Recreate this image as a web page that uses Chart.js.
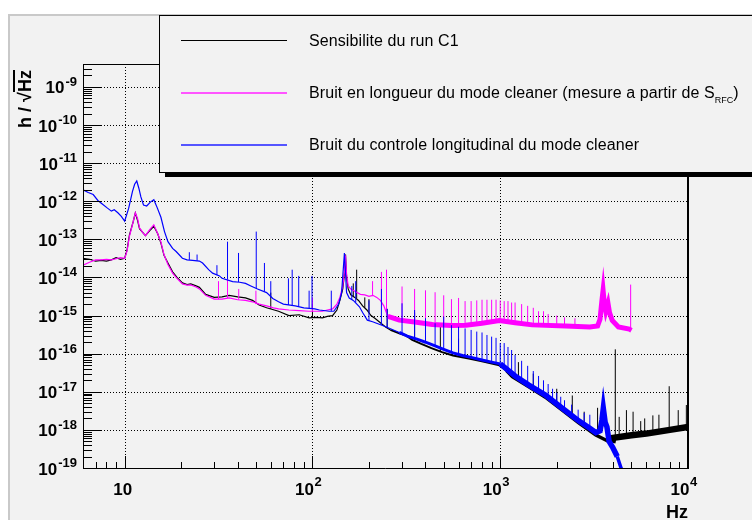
<!DOCTYPE html>
<html>
<head>
<meta charset="utf-8">
<title>Sensibilite du run C1</title>
<script src="https://cdn.jsdelivr.net/npm/chart.js@4.4.1/dist/chart.umd.min.js"></script>
<style>
  html, body { margin: 0; padding: 0; background: #fff; overflow: hidden; }
  #wrap { position: relative; width: 752px; height: 520px; overflow: hidden;
          font-family: "Liberation Sans", Arial, Helvetica, sans-serif; }
  #pad { position: absolute; left: 8px; top: 14px; width: 760px; height: 520px;
         background: #f2f2f2; border-left: 2px solid #c9c9c9; border-top: 2px solid #c9c9c9; }
  #chart { position: absolute; left: 0; top: 0; }
  #legend { position: absolute; left: 159px; top: 15px; width: 640px; height: 156px;
            background: #f2f2f2; border: 1px solid #000; box-shadow: 6px 4px 0 #000; }
  .key { position: absolute; left: 181px; width: 106px; }
  .txt { position: absolute; left: 309px; height: 20px; line-height: 20px; font-size: 16px;
         letter-spacing: 0.1px; white-space: nowrap; color: #000; }
  .txt sub { font-size: 9px; vertical-align: -5px; line-height: 0; letter-spacing: 0; }
  #ytitle { position: absolute; left: 15px; top: 128px; transform-origin: 0 0; transform: rotate(-90deg);
            font-weight: bold; font-size: 18px; line-height: 20px; white-space: nowrap; }
  #ytitle span { border-top: 2px solid #000; }
</style>
</head>
<body>
<div id="wrap">
  <div id="pad"></div>
  <canvas id="chart" width="752" height="520"></canvas>
  <div id="ytitle">h / &#8730;<span>Hz</span></div>
  <div id="legend"></div>
  <div class="key" style="top:40px;height:1px;background:#000"></div>
  <div class="key" style="top:92px;height:2px;background:#ff55ff"></div>
  <div class="key" style="top:144px;height:2px;background:#5555ff"></div>
  <div class="txt" style="top:31px">Sensibilite du run C1</div>
  <div class="txt" style="top:83px">Bruit en longueur du mode cleaner (mesure a partir de S<sub>RFC</sub>)</div>
  <div class="txt" style="top:135px">Bruit du controle longitudinal du mode cleaner</div>
</div>
<script>
// axes (Hz, h/sqrt(Hz))
const xRange = [6, 1e4];
const yRange = [1e-19, 4e-9];
const xTickValues = [10, 100, 1000, 10000];
const xTickExps = ['', '2', '3', '4'];
const yTickValues = [1e-19, 1e-18, 1e-17, 1e-16, 1e-15, 1e-14, 1e-13, 1e-12, 1e-11, 1e-10, 1e-9];
const yTickExps = ['-19', '-18', '-17', '-16', '-15', '-14', '-13', '-12', '-11', '-10', '-9'];
const minorSteps = [2, 3, 4, 5, 6, 7, 8, 9];

const seriesNames = [
  'Sensibilite du run C1',
  'Bruit en longueur du mode cleaner',
  'Bruit du controle longitudinal du mode cleaner'
];

// Sensibilite du run C1 : [Hz, h]
const blackCurve = [
  [6, 3.2e-14], [6.5, 3.0e-14], [7, 2.7e-14], [7.5, 2.8e-14], [8, 2.7e-14], [8.5, 2.9e-14],
  [9, 3.3e-14], [9.5, 3.0e-14], [10, 3.2e-14], [10.3, 5.3e-14], [10.6, 1.3e-13], [11.1, 2.9e-13],
  [11.4, 4.9e-13], [11.7, 3.2e-13], [12, 1.9e-13], [12.5, 1.5e-13], [12.9, 1.25e-13], [13.6, 1.7e-13],
  [14.3, 2.2e-13], [15, 1.4e-13], [15.6, 8e-14], [16.2, 3.8e-14], [17, 2.4e-14], [18, 1.4e-14],
  [19, 1.0e-14], [20.3, 7.2e-15], [21.5, 6.5e-15], [22.5, 6.8e-15], [24, 6.0e-15], [25, 5.5e-15],
  [27, 3.6e-15], [30, 3.0e-15], [33, 3.1e-15], [36, 3.4e-15], [40, 3.1e-15], [44, 2.9e-15],
  [48, 2.5e-15], [52, 1.9e-15], [57, 1.6e-15], [66, 1.3e-15], [75, 1.0e-15], [85, 1.05e-15],
  [96, 8.7e-16], [105, 9e-16], [113, 8.7e-16], [120, 9.5e-16], [128, 1.0e-15], [135, 1.4e-15],
  [140, 2.5e-15], [145, 5e-15], [148, 1.2e-14], [150, 4e-14], [152, 1e-14], [155, 5e-15],
  [160, 3.5e-15], [168, 3e-15], [176, 2.5e-15], [185, 1.8e-15], [195, 1.4e-15], [205, 1.0e-15],
  [215, 8.5e-16], [230, 6.5e-16], [245, 5e-16], [260, 4.2e-16], [290, 3.4e-16], [315, 3.0e-16],
  [340, 2.3e-16], [380, 1.8e-16], [430, 1.4e-16], [490, 1.1e-16], [560, 9e-17], [680, 7.5e-17],
  [800, 6.3e-17], [990, 5e-17], [1080, 3.6e-17], [1160, 2.5e-17], [1420, 1.35e-17], [1740, 7.2e-18],
  [2140, 3.3e-18], [2630, 1.5e-18], [3230, 7.3e-19], [3800, 4.9e-19], [3950, 4.6e-19], [4000, 6.2e-19],
  [5000, 7.2e-19], [6000, 8e-19], [7000, 9e-19], [8000, 1.0e-18], [10000, 1.2e-18]
];
// spikes : [Hz, base, top]
const blackSpikes = [
  [60, 1.5e-15, 4e-15], [100, 8.8e-16, 2e-15], [165, 3.2e-15, 7e-15], [172, 2.8e-15, 1.6e-14],
  [190, 1.6e-15, 3e-15], [200, 1.2e-15, 2.7e-15], [250, 4.8e-16, 1.5e-15], [350, 2.2e-16, 1.2e-15],
  [480, 1.1e-16, 5e-16], [600, 8.5e-17, 2.5e-16], [1250, 2e-17, 6e-17], [1500, 1.2e-17, 3e-17],
  [2000, 4e-18, 1.2e-17], [2420, 2.2e-18, 8e-18], [2800, 1.2e-18, 3e-18], [3300, 7e-19, 3.8e-18],
  [4100, 6.3e-19, 1.3e-16], [4300, 6.5e-19, 2.2e-18], [4700, 6.8e-19, 3.3e-18], [5100, 7.2e-19, 3e-18],
  [5600, 7.6e-19, 1.7e-18], [5880, 7.8e-19, 2e-18], [6500, 8.4e-19, 2.4e-18], [7000, 9e-19, 2.5e-18],
  [7940, 1e-18, 1.4e-17], [8870, 1.1e-18, 3.3e-18], [9800, 1.2e-18, 4.5e-18]
];

// Bruit en longueur du mode cleaner (S_RFC)
const pinkCurve = [
  [6, 2.1e-14], [6.5, 2.5e-14], [7, 2.9e-14], [7.5, 2.9e-14], [8, 3.0e-14], [8.5, 2.9e-14],
  [9, 3.1e-14], [9.5, 3.3e-14], [10, 3.2e-14], [10.3, 5e-14], [10.6, 1.2e-13], [11.1, 2.9e-13],
  [11.4, 5.0e-13], [11.7, 3.6e-13], [12, 2e-13], [12.5, 1.5e-13], [12.9, 1.25e-13], [13.6, 1.8e-13],
  [14.3, 2.4e-13], [15, 1.4e-13], [15.6, 8.5e-14], [16.2, 4e-14], [17, 2.2e-14], [18, 1.3e-14],
  [19, 9.5e-15], [20.3, 6.8e-15], [21.5, 6.3e-15], [22.5, 6.4e-15], [24, 5.6e-15], [25, 5.0e-15],
  [27, 3.4e-15], [30, 2.7e-15], [33, 2.7e-15], [36, 2.9e-15], [40, 2.6e-15], [44, 2.5e-15],
  [48, 2.3e-15], [52, 2.0e-15], [57, 1.8e-15], [62, 1.6e-15], [66, 1.5e-15], [75, 1.4e-15],
  [85, 1.35e-15], [96, 1.3e-15], [105, 1.3e-15], [113, 1.3e-15], [120, 1.4e-15], [128, 1.5e-15],
  [135, 2e-15], [140, 3e-15], [145, 6e-15], [148, 1.4e-14], [150, 3.8e-14], [152, 1.2e-14],
  [155, 6e-15], [160, 5e-15], [170, 4.2e-15], [180, 3.6e-15], [190, 3.5e-15], [200, 3.2e-15],
  [210, 3.4e-15], [220, 3e-15], [230, 2.5e-15], [240, 1.8e-15], [246, 1.3e-15], [252, 9.5e-16],
  [270, 8.6e-16], [290, 7.6e-16], [350, 6.8e-16], [435, 5.8e-16], [550, 5.5e-16], [655, 5.6e-16],
  [800, 6.3e-16], [990, 7.4e-16], [1200, 6.5e-16], [1480, 5.7e-16], [2230, 5.3e-16], [3000, 5e-16],
  [3300, 5.3e-16], [3400, 8e-16], [3480, 2.5e-15], [3530, 4.6e-15], [3580, 2.2e-15], [3650, 1.3e-15],
  [3750, 2.1e-15], [3820, 1.2e-15], [3950, 7.5e-16], [4260, 5e-16], [4870, 4.4e-16], [5000, 4.1e-16]
];
const pinkSpikes = [
  [31.6, 2.7e-15, 8e-15], [35.3, 2.9e-15, 9e-15], [40.5, 2.6e-15, 5e-15], [50, 2.0e-15, 4.5e-15],
  [100, 1.3e-15, 3e-15], [209, 3.3e-15, 8e-15], [233, 2.5e-15, 1.4e-14], [248, 1.2e-15, 1.6e-14],
  [300, 7.6e-16, 5.8e-15], [350, 6.8e-16, 5e-15], [400, 6.4e-16, 4.6e-15], [450, 6e-16, 4.1e-15],
  [500, 5.8e-16, 3.4e-15], [550, 5.5e-16, 2.7e-15], [600, 5.5e-16, 2.9e-15], [650, 5.6e-16, 2.4e-15],
  [700, 5.8e-16, 2.4e-15], [750, 6e-16, 2.5e-15], [800, 6.3e-16, 2.6e-15], [850, 6.6e-16, 2.6e-15],
  [900, 6.9e-16, 2.6e-15], [950, 7.2e-16, 2.6e-15], [1000, 7.4e-16, 2.5e-15], [1050, 7.2e-16, 2.4e-15],
  [1100, 7e-16, 2.4e-15], [1150, 6.8e-16, 2.2e-15], [1200, 6.5e-16, 2.2e-15], [1300, 6.2e-16, 2e-15],
  [1400, 5.9e-16, 1.8e-15], [1500, 5.7e-16, 1.6e-15], [1600, 5.6e-16, 1.3e-15], [1700, 5.5e-16, 1.3e-15],
  [1800, 5.5e-16, 1.1e-15], [2000, 5.4e-16, 1e-15], [2200, 5.3e-16, 9e-16], [2500, 5.2e-16, 8.5e-16],
  [4950, 4.3e-16, 6.5e-15]
];

// Bruit du controle longitudinal du mode cleaner
const blueCurve = [
  [6, 2.0e-12], [6.4, 1.7e-12], [6.8, 1.5e-12], [7.2, 1.05e-12], [7.6, 8.5e-13], [8.1, 6.6e-13],
  [8.5, 5.5e-13], [8.8, 6e-13], [9.2, 5e-13], [9.6, 4e-13], [10, 3.0e-13], [10.5, 6.5e-13],
  [11, 1.8e-12], [11.3, 2.8e-12], [11.6, 3.4e-12], [11.9, 2.2e-12], [12.2, 1.3e-12], [12.6, 8e-13],
  [13.1, 7.5e-13], [13.7, 9.5e-13], [14.3, 1.1e-12], [14.9, 6.8e-13], [15.6, 3.8e-13], [16.3, 1.6e-13],
  [17, 8.7e-14], [18, 5.8e-14], [18.8, 4.8e-14], [20.3, 3.2e-14], [21.5, 2.9e-14], [23, 2.8e-14],
  [25, 2.7e-14], [26, 2.4e-14], [28, 1.6e-14], [29.4, 1.3e-14], [32, 1.1e-14], [33, 9.5e-15],
  [37.6, 7.8e-15], [41, 7.5e-15], [44, 7e-15], [47, 6e-15], [51, 5e-15], [57, 4e-15],
  [61.5, 2.8e-15], [66, 2.3e-15], [70, 2e-15], [81, 1.8e-15], [90, 1.6e-15], [103, 1.5e-15],
  [109, 1.4e-15], [123, 1.3e-15], [130, 1.3e-15], [138, 2e-15], [143, 4e-15], [148, 4.4e-14],
  [152, 4e-15], [157, 2.9e-15], [165, 2.5e-15], [178, 1.7e-15], [185, 1.2e-15], [196, 7.6e-16],
  [209, 6.9e-16], [225, 6e-16], [246, 5.1e-16], [290, 3.6e-16], [320, 2.9e-16], [360, 2.4e-16],
  [400, 2e-16], [450, 1.6e-16], [500, 1.3e-16], [560, 1.05e-16], [630, 9e-17], [700, 8e-17],
  [800, 6.8e-17], [900, 6e-17], [1000, 5.4e-17], [1100, 3.7e-17], [1200, 2.6e-17], [1420, 1.5e-17],
  [1740, 8.2e-18], [2140, 3.7e-18], [2630, 1.7e-18], [3000, 1.1e-18], [3230, 8.5e-19], [3400, 9.5e-19],
  [3480, 1.8e-18], [3540, 3.7e-18], [3620, 1.6e-18], [3700, 1.2e-18], [3800, 5e-19], [3970, 3.5e-19],
  [4200, 2e-19], [4400, 1e-19], [4700, 6e-20], [5000, 4e-20]
];
const blueSpikes = [
  [22.1, 2.9e-14, 4.6e-14], [24.3, 2.75e-14, 4e-14], [31, 1.15e-14, 2.1e-14], [35.3, 9e-15, 8.7e-14],
  [40.4, 7.6e-15, 4.4e-14], [50.2, 5.2e-15, 1.6e-13], [55.5, 4.3e-15, 2.4e-14], [60, 3e-15, 8e-15],
  [74.5, 1.9e-15, 9.5e-15], [78, 1.85e-15, 1.6e-14], [84.5, 1.75e-15, 1.1e-14], [96, 1.55e-15, 4.5e-15],
  [99.5, 1.5e-15, 1.1e-14], [126, 1.3e-15, 4.5e-15], [162, 2.6e-15, 6e-15], [170, 2.2e-15, 8e-15],
  [200, 7.3e-16, 2.5e-15], [233, 5.7e-16, 5e-15], [250, 5e-16, 1.5e-15],
  [300, 3.4e-16, 2.1e-15], [350, 2.5e-16, 1.4e-15], [400, 2e-16, 8.5e-16], [450, 1.6e-16, 6.3e-16],
  [500, 1.3e-16, 9.4e-16], [550, 1.08e-16, 5.6e-16], [600, 9.8e-17, 5.1e-16], [650, 8.7e-17, 4.6e-16],
  [700, 8e-17, 4.2e-16], [750, 7.4e-17, 3.8e-16], [800, 6.8e-17, 3.6e-16], [850, 6.4e-17, 3.1e-16],
  [900, 6e-17, 2.8e-16], [950, 5.7e-17, 2.6e-16], [1000, 5.4e-17, 1.9e-16], [1050, 4.5e-17, 1.9e-16],
  [1100, 3.7e-17, 1.5e-16], [1150, 3.1e-17, 1.25e-16], [1200, 2.6e-17, 9.3e-17], [1300, 2.1e-17, 6.5e-17],
  [1400, 1.6e-17, 4.8e-17], [1500, 1.3e-17, 3.5e-17], [1600, 1.05e-17, 2.6e-17], [1700, 8.8e-18, 2e-17],
  [1800, 7.4e-18, 1.6e-17], [1900, 6e-18, 1.2e-17], [2000, 4.8e-18, 9.5e-18], [2100, 3.9e-18, 7.4e-18],
  [2200, 3.3e-18, 6e-18], [2400, 2.4e-18, 4.6e-18], [2600, 1.8e-18, 3.4e-18], [2800, 1.4e-18, 2.8e-18],
  [3000, 1.1e-18, 2.5e-18]
];

const FONT = '"Liberation Sans", Arial, Helvetica, sans-serif';

const toPoints = curve => curve.map(([f, v]) => ({ x: f, y: v }));
// each spike is a short vertical stroke, separated by a gap
const toSpikes = spikes => {
  const out = [];
  spikes.forEach(([f, lo, hi]) => out.push({ x: f, y: lo }, { x: f, y: hi }, { x: f, y: null }));
  return out;
};
// noisy spectra look like a thick band at high frequency
const bandWidth = steps => ctx => {
  const f = ctx.p0.parsed.x;
  let w = 1;
  steps.forEach(([from, width]) => { if (f >= from) w = width; });
  return w;
};

const rootAxes = {
  id: 'rootAxes',
  beforeDatasetsDraw(chart) {
    const { ctx, chartArea: a, scales: { x, y } } = chart;
    ctx.save();
    ctx.strokeStyle = '#000';
    ctx.lineWidth = 1;
    ctx.setLineDash([1, 2]);
    ctx.beginPath();
    xTickValues.forEach(v => {
      if (v <= x.min || v >= x.max) return;
      const px = Math.round(x.getPixelForValue(v)) + 0.5;
      ctx.moveTo(px, a.top); ctx.lineTo(px, a.bottom);
    });
    yTickValues.forEach(v => {
      if (v <= y.min || v >= y.max) return;
      const py = Math.round(y.getPixelForValue(v)) + 0.5;
      ctx.moveTo(a.left, py); ctx.lineTo(a.right, py);
    });
    ctx.stroke();
    ctx.restore();
  },
  afterDatasetsDraw(chart) {
    const { ctx, chartArea: a, scales: { x, y } } = chart;
    ctx.save();
    ctx.strokeStyle = '#000';
    ctx.lineWidth = 1;
    // frame
    ctx.beginPath();
    ctx.moveTo(a.left + 0.5, a.top + 0.5);
    ctx.lineTo(a.right, a.top + 0.5);
    ctx.moveTo(a.left + 0.5, a.top);
    ctx.lineTo(a.left + 0.5, a.bottom + 0.5);
    ctx.lineTo(a.right, a.bottom + 0.5);
    ctx.stroke();
    ctx.lineWidth = 2;
    ctx.beginPath();
    ctx.moveTo(a.right, a.top);
    ctx.lineTo(a.right, a.bottom + 1);
    ctx.stroke();

    // ticks, pointing inwards
    ctx.lineWidth = 1;
    ctx.beginPath();
    const xTick = (v, len) => {
      if (v < x.min || v > x.max) return;
      const px = Math.round(x.getPixelForValue(v)) + 0.5;
      ctx.moveTo(px, a.bottom); ctx.lineTo(px, a.bottom - len);
    };
    const yTick = (v, len) => {
      if (v < y.min || v > y.max) return;
      const py = Math.round(y.getPixelForValue(v)) + 0.5;
      ctx.moveTo(a.left, py); ctx.lineTo(a.left + len, py);
    };
    xTickValues.forEach(v => {
      xTick(v, 12);
      minorSteps.forEach(m => xTick(v / 10 * m, 6));
    });
    yTickValues.forEach(v => {
      yTick(v, 18);
      minorSteps.forEach(m => yTick(v * m, 9));
    });
    ctx.stroke();

    // tick labels with exponents
    ctx.fillStyle = '#000';
    ctx.textAlign = 'left';
    ctx.textBaseline = 'alphabetic';
    yTickValues.forEach((v, i) => {
      const py = y.getPixelForValue(v);
      ctx.font = 'bold 13px ' + FONT;
      const ew = ctx.measureText(yTickExps[i]).width;
      ctx.fillText(yTickExps[i], a.left - 6 - ew, py - 1);
      ctx.font = 'bold 17px ' + FONT;
      const bw = ctx.measureText('10').width;
      ctx.fillText('10', a.left - 7 - ew - bw, py + 6.5);
    });
    xTickValues.forEach((v, i) => {
      const px = x.getPixelForValue(v);
      const exp = xTickExps[i];
      ctx.font = 'bold 17px ' + FONT;
      const bw = ctx.measureText('10').width;
      const x0 = exp ? px + 1.5 - bw : px - 2 - bw / 2;
      ctx.fillText('10', x0, a.bottom + 27);
      if (exp) {
        ctx.font = 'bold 13px ' + FONT;
        ctx.fillText(exp, x0 + bw + 0.5, a.bottom + 17.5);
      }
    });
    // axis title
    ctx.font = 'bold 18px ' + FONT;
    ctx.textAlign = 'right';
    ctx.fillText('Hz', a.right, a.bottom + 50);
    ctx.restore();
  }
};

const line = (label, data, color, extra) => Object.assign({
  label, data, borderColor: color, backgroundColor: color,
  borderWidth: 1, pointRadius: 0, tension: 0, fill: false, spanGaps: false
}, extra);

new Chart(document.getElementById('chart'), {
  type: 'line',
  data: {
    datasets: [
      line(seriesNames[2] + ' (raies)', toSpikes(blueSpikes), '#0000ff'),
      line(seriesNames[2], toPoints(blueCurve), '#0000ff',
        { segment: { borderWidth: bandWidth([[0, 1.2], [250, 3], [1000, 5.5], [4000, 3.5]]) } }),
      line(seriesNames[1] + ' (raies)', toSpikes(pinkSpikes), '#ff00ff'),
      line(seriesNames[1], toPoints(pinkCurve), '#ff00ff',
        { segment: { borderWidth: bandWidth([[0, 1.2], [250, 5]]) } }),
      line(seriesNames[0] + ' (raies)', toSpikes(blackSpikes), '#000000'),
      line(seriesNames[0], toPoints(blackCurve), '#000000',
        { segment: { borderWidth: bandWidth([[0, 1.2], [250, 2], [1000, 3.5], [3900, 6.5]]) } })
    ]
  },
  options: {
    responsive: false,
    devicePixelRatio: 1,
    animation: false,
    events: [],
    layout: { padding: { left: 83, top: 64, right: 64, bottom: 52 } },
    plugins: { legend: { display: false }, tooltip: { enabled: false } },
    scales: {
      x: { type: 'logarithmic', min: xRange[0], max: xRange[1], display: false },
      y: { type: 'logarithmic', min: yRange[0], max: yRange[1], display: false }
    }
  },
  plugins: [rootAxes]
});
</script>
</body>
</html>
